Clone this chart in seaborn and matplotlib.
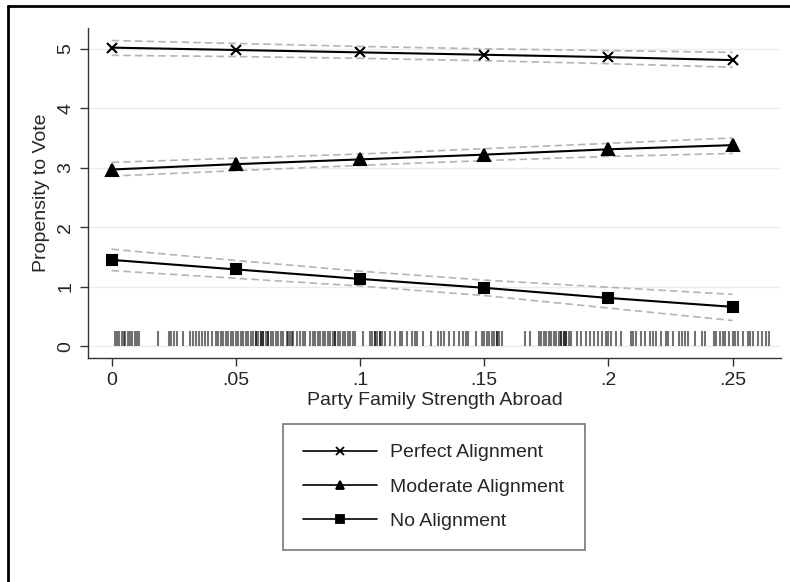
import numpy as np
import pandas as pd
import matplotlib
matplotlib.use("Agg")
import matplotlib.pyplot as plt
from matplotlib.lines import Line2D
import seaborn as sns

# x positions of the marginal predictions
strength = [0, 0.05, 0.10, 0.15, 0.20, 0.25]

# predicted propensity to vote and 95% CI bounds
perfect = [5.02, 4.98, 4.94, 4.90, 4.86, 4.81]
perfect_hi = [5.14, 5.09, 5.04, 5.00, 4.97, 4.94]
perfect_lo = [4.89, 4.87, 4.84, 4.80, 4.75, 4.69]

moderate = [2.97, 3.06, 3.14, 3.22, 3.31, 3.38]
moderate_hi = [3.09, 3.16, 3.23, 3.32, 3.41, 3.50]
moderate_lo = [2.86, 2.95, 3.04, 3.12, 3.19, 3.24]

none_ = [1.45, 1.29, 1.13, 0.98, 0.81, 0.66]
none_hi = [1.63, 1.44, 1.26, 1.11, 0.99, 0.87]
none_lo = [1.27, 1.14, 1.01, 0.85, 0.64, 0.43]

labels = ["Perfect Alignment", "Moderate Alignment", "No Alignment"]

# observed values of party family strength abroad (rug)
rug = [0.0012, 0.0020, 0.0028, 0.0040, 0.0048, 0.0055, 0.0067, 0.0075, 0.0083,
       0.0095, 0.0103, 0.0111, 0.0186, 0.0230, 0.0238, 0.0250, 0.0265, 0.0289,
       0.0317, 0.0329, 0.0340, 0.0352, 0.0364, 0.0376, 0.0388, 0.0404,
       0.042, 0.043, 0.044, 0.045, 0.046, 0.047, 0.048, 0.049, 0.050, 0.051,
       0.052, 0.053, 0.054, 0.055, 0.056, 0.057, 0.058, 0.059, 0.060, 0.061,
       0.062, 0.063, 0.064, 0.065, 0.058, 0.060, 0.061, 0.063,
       0.066, 0.067, 0.068, 0.069, 0.0705, 0.071, 0.072, 0.073, 0.0725,
       0.0745, 0.076, 0.077, 0.078,
       0.080, 0.081, 0.082, 0.083, 0.084, 0.085, 0.086, 0.087, 0.088, 0.089,
       0.090, 0.091, 0.092, 0.093, 0.094, 0.095, 0.096, 0.097, 0.098, 0.090,
       0.101, 0.104, 0.105, 0.106, 0.107, 0.108, 0.109, 0.110, 0.106, 0.108,
       0.112, 0.114, 0.116, 0.117, 0.119, 0.121, 0.122, 0.123, 0.1255, 0.1287,
       0.1315, 0.1327, 0.1338, 0.1358, 0.1378, 0.1398, 0.1413, 0.1425, 0.1433,
       0.1465, 0.1493, 0.150, 0.151, 0.152, 0.153, 0.154, 0.155, 0.156, 0.157,
       0.155, 0.1663, 0.1683,
       0.172, 0.173, 0.174, 0.175, 0.176, 0.177, 0.178, 0.179, 0.180, 0.181,
       0.182, 0.183, 0.184, 0.185, 0.181, 0.182, 0.183,
       0.1873, 0.1889, 0.1909, 0.1925, 0.194, 0.196, 0.1976, 0.1992,
       0.200, 0.201, 0.203, 0.205, 0.209, 0.210, 0.211, 0.213, 0.2146,
       0.2166, 0.218, 0.219, 0.221, 0.223, 0.224, 0.226,
       0.2285, 0.2295, 0.231, 0.232, 0.2348, 0.2376, 0.2388,
       0.2423, 0.2435, 0.245, 0.246, 0.247, 0.2487,
       0.2502, 0.251, 0.252, 0.254, 0.256, 0.257, 0.2582, 0.2602, 0.262,
       0.2633, 0.2645]

sns.set_style("white")
plt.rcParams["font.family"] = ["Liberation Sans", "DejaVu Sans"]

rows = []
for lab, mid, hi, lo in [(labels[0], perfect, perfect_hi, perfect_lo),
                         (labels[1], moderate, moderate_hi, moderate_lo),
                         (labels[2], none_, none_hi, none_lo)]:
    for x, m, h, l in zip(strength, mid, hi, lo):
        rows.append({"x": x, "y": m, "hi": h, "lo": l, "Alignment": lab})
df = pd.DataFrame(rows)

fig = plt.figure(figsize=(7.9, 5.82), dpi=100)
ax = fig.add_axes([0.1114, 0.3849, 0.877, 0.567])

markers = {labels[0]: "x", labels[1]: "^", labels[2]: "s"}
msize = {labels[0]: 7, labels[1]: 8, labels[2]: 7.5}

for lab in labels:
    sub = df[df["Alignment"] == lab]
    # confidence bounds as dashed grey lines
    for col in ["hi", "lo"]:
        sns.lineplot(data=sub, x="x", y=col, color="#b4b4b4", lw=1.2,
                     linestyle=(0, (4.5, 2.5)), ax=ax, legend=False)
    sns.lineplot(data=sub, x="x", y="y", color="black", lw=1.5, ax=ax,
                 marker=markers[lab], markersize=msize[lab],
                 markeredgewidth=1.5, markeredgecolor="black", legend=False)

ax.vlines(rug, 0, 0.25, color="black", alpha=0.55, lw=1.5)

ax.set_xlim(-0.0095, 0.2694)
ax.set_ylim(-0.2, 5.35)
ax.set_xticks(strength)
ax.set_xticklabels(["0", ".05", ".1", ".15", ".2", ".25"])
ax.set_yticks([0, 1, 2, 3, 4, 5])
ax.set_yticklabels(["0", "1", "2", "3", "4", "5"], rotation=90, va="center")
for yv in range(6):
    ax.axhline(yv, color="#e6eff2", lw=1.0, zorder=0)

for s in ["top", "right"]:
    ax.spines[s].set_visible(False)
for s in ["left", "bottom"]:
    ax.spines[s].set_color("#333333")
    ax.spines[s].set_linewidth(1.0)
ax.tick_params(axis="both", direction="out", length=6, width=1.0,
               color="#333333", labelsize=14, pad=4,
               left=True, bottom=True)
ax.set_xlabel("Party Family Strength Abroad", fontsize=14, labelpad=2)
ax.set_ylabel("Propensity to Vote", fontsize=14, labelpad=5)

handles = [Line2D([], [], color="black", lw=1.2, marker=markers[l],
                  markersize=6, markeredgewidth=1.3) for l in labels]
leg = fig.legend(handles, labels, loc="upper left",
                 bbox_to_anchor=(0.358, 0.0464, 0.383, 0.225), mode="expand",
                 fontsize=14, frameon=True, fancybox=False, handlelength=3.8,
                 handletextpad=0.67, labelspacing=0.86, borderpad=1.02,
                 borderaxespad=0)
leg.get_frame().set_edgecolor("#555555")
leg.get_frame().set_linewidth(1.2)

# outer frame (left and top edges of the exported graph region)
fig.add_artist(Line2D([0.0095, 1.0], [0.9897, 0.9897], color="black", lw=2,
                      transform=fig.transFigure))
fig.add_artist(Line2D([0.0101, 0.0101], [0.0, 0.9897], color="black", lw=2,
                      transform=fig.transFigure))

fig.savefig("out.png", dpi=100)
